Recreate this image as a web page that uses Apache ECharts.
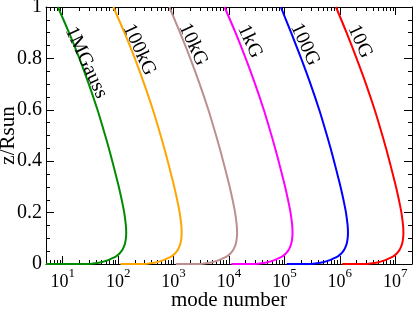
<!DOCTYPE html>
<html><head><meta charset="utf-8">
<script src="https://cdn.jsdelivr.net/npm/echarts@6/dist/echarts.min.js"></script>
<style>html,body{margin:0;padding:0;background:#fff}#c{width:415px;height:309px}</style>
</head><body><div id="c"></div>
<script>
// z/Rsun values shared by all curves
const zValues = [0, 0, 0.003, 0.007, 0.012, 0.02, 0.03, 0.04, 0.053, 0.066, 0.08, 0.1, 0.12, 0.15, 0.2, 0.25, 0.3, 0.35, 0.4, 0.45, 0.5, 0.6, 0.7, 0.8, 0.9, 1.0];
// mode number for each field strength
const mode1MG   = [5, 28, 38, 50, 60, 74, 92, 105, 117.5, 126, 133, 138, 140, 138, 128.8, 116, 103, 90, 78.5, 68, 58.5, 42.4, 29.6, 20, 13, 8.2];
const mode100kG = [110, 280, 380, 500, 600, 740, 920, 1050, 1175, 1260, 1330, 1380, 1400, 1380, 1288, 1160, 1030, 900, 785, 680, 585, 424, 296, 200, 130, 82];
const mode10kG  = [1100, 2800, 3800, 5000, 6000, 7400, 9200, 10500, 11750, 12600, 13300, 13800, 14000, 13800, 12880, 11600, 10300, 9000, 7850, 6800, 5850, 4240, 2960, 2000, 1310, 840];
const mode1kG   = [11000, 28000, 38000, 50000, 60000, 74000, 92000, 105000, 117500, 126000, 133000, 138000, 140000, 138000, 128800, 116000, 103000, 90000, 78500, 68000, 58500, 42400, 29600, 20000, 13100, 8300];
const mode100G  = [110000, 280000, 380000, 500000, 600000, 740000, 920000, 1050000, 1175000, 1260000, 1330000, 1380000, 1400000, 1380000, 1288000, 1160000, 1030000, 900000, 785000, 680000, 585000, 424000, 296000, 200000, 132000, 86000];
const mode10G   = [1100000, 2800000, 3800000, 5000000, 6000000, 7400000, 9200000, 10500000, 11750000, 12600000, 13300000, 13800000, 14000000, 13800000, 12880000, 11600000, 10300000, 9000000, 7850000, 6800000, 5850000, 4240000, 2960000, 2000000, 1320000, 850000];
const seriesNames = ['1MGauss', '100kG', '10kG', '1kG', '100G', '10G'];
const seriesModes = [mode1MG, mode100kG, mode10kG, mode1kG, mode100G, mode10G];
const seriesColors = ['#008b00', '#ffa500', '#bc8f8f', '#ff00ff', '#0000ff', '#ff0000'];
// curve label anchors (mode number, z)
const labelX = [26.5, 240, 2250, 23800, 235000, 2300000];
const labelZ = [0.784, 0.834, 0.854, 0.866, 0.854, 0.866];
// tick values
const xMajor = [10, 100, 1e3, 1e4, 1e5, 1e6, 1e7];
const xMinor = [];
for (let e = 0; e <= 7; e++) for (let m = 2; m <= 9; m++) { const v = m * Math.pow(10, e); if (v >= 5 && v <= 2e7) xMinor.push(v); }

const FONT = 'Liberation Serif';
const xBase = {type: 'log', logBase: 10, min: 5, max: 2e7, splitLine: {show: false}, minorTick: {show: false}};
const yBase = {type: 'value', min: 0, max: 1, interval: 0.2, splitLine: {show: false},
  axisTick: {show: true, inside: true, length: 8, lineStyle: {color: '#000'}},
  minorTick: {show: true, splitNumber: 4, length: 4, lineStyle: {color: '#000'}},
  axisLine: {show: true, lineStyle: {color: '#000', width: 1}}};

const series = seriesNames.map((name, i) => ({
  name, type: 'line', xAxisIndex: 0, yAxisIndex: 0,
  data: seriesModes[i].map((x, j) => [x, zValues[j]]),
  showSymbol: false, smooth: 0.3, clip: true,
  lineStyle: {color: seriesColors[i], width: 2},
  itemStyle: {color: seriesColors[i]},
  markPoint: {symbol: 'circle', symbolSize: 0, silent: true,
    data: [{coord: [labelX[i], labelZ[i]], value: name}],
    label: {show: true, position: 'inside', formatter: name, rotate: -65, color: '#000', fontFamily: FONT, fontSize: 20}}
}));

const chart = echarts.init(document.getElementById('c'), null, {renderer: 'canvas'});
chart.setOption({
  animation: false,
  backgroundColor: '#fff',
  grid: {left: 46, right: 3, top: 7, bottom: 45, containLabel: false, outerBoundsMode: 'none'},
  xAxis: [
    Object.assign({}, xBase, {position: 'bottom',
      axisLine: {show: true, lineStyle: {color: '#000', width: 1}},
      axisTick: {show: true, inside: true, length: 8, customValues: xMajor, lineStyle: {color: '#000'}},
      axisLabel: {show: true, customValues: xMajor, margin: 3,
        formatter: v => '{b|10}{s|' + Math.round(Math.log10(v)) + '}',
        rich: {b: {fontFamily: FONT, fontSize: 18, lineHeight: 30, color: '#000'},
               s: {fontFamily: FONT, fontSize: 13, lineHeight: 13, verticalAlign: 'top', color: '#000'}}},
      name: 'mode number', nameLocation: 'middle', nameGap: 26, nameMoveOverlap: false,
      nameTextStyle: {fontFamily: FONT, fontSize: 21, color: '#000'}}),
    Object.assign({}, xBase, {position: 'bottom', axisLine: {show: false},
      axisTick: {show: true, inside: true, length: 4, customValues: xMinor, lineStyle: {color: '#000'}},
      axisLabel: {show: false}}),
    Object.assign({}, xBase, {position: 'top',
      axisLine: {show: true, lineStyle: {color: '#000', width: 1}},
      axisTick: {show: true, inside: true, length: 8, customValues: xMajor, lineStyle: {color: '#000'}},
      axisLabel: {show: false}}),
    Object.assign({}, xBase, {position: 'top', axisLine: {show: false},
      axisTick: {show: true, inside: true, length: 4, customValues: xMinor, lineStyle: {color: '#000'}},
      axisLabel: {show: false}})
  ],
  yAxis: [
    Object.assign({}, yBase, {position: 'left',
      axisLabel: {show: true, margin: 4, fontFamily: FONT, fontSize: 20, color: '#000'},
      name: 'z/Rsun', nameLocation: 'middle', nameGap: 27, nameMoveOverlap: false,
      nameTextStyle: {fontFamily: FONT, fontSize: 21, color: '#000'}}),
    Object.assign({}, yBase, {position: 'right', axisLabel: {show: false}})
  ],
  series
});
</script>
</body></html>
